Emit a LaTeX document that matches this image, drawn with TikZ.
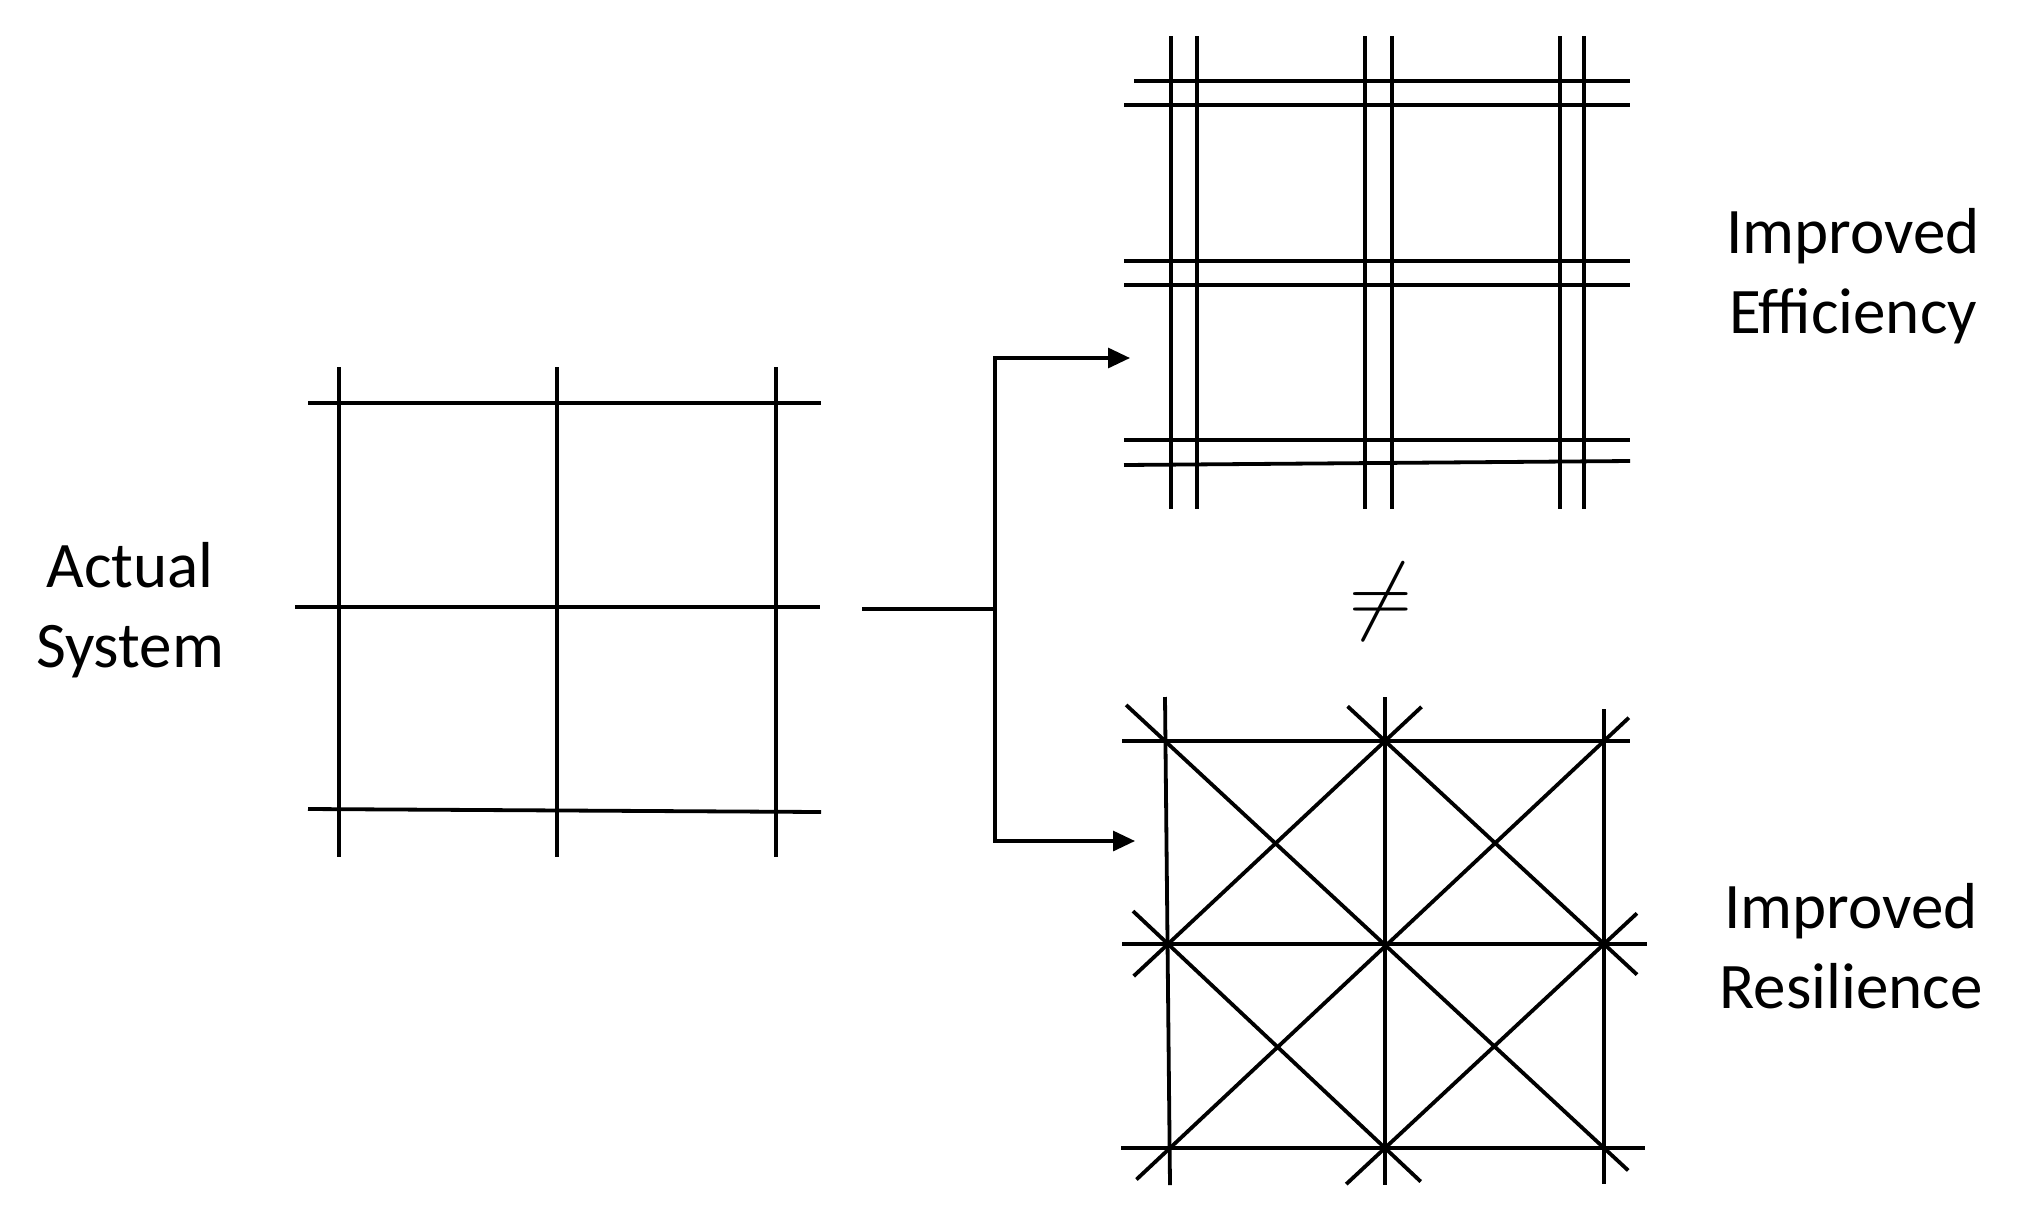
\RequirePackage{fix-cm}
\documentclass[tikz,border=0pt]{standalone}
\usepackage{fontspec}
\setmainfont{Carlito}
\usetikzlibrary{arrows.meta}
\begin{document}
\begin{tikzpicture}[x=1pt,y=-1pt,
  gridline/.style={line width=3.8pt, black},
  connline/.style={line width=3.2pt, black},
  conn/.style={connline, -{Triangle[length=22pt,width=20pt]}},
  txt/.style={font=\fontsize{65}{80}\selectfont, align=center, inner sep=0pt}]
\useasboundingbox (0,0) rectangle (2024,1227);
% left grid (actual system)
\draw[gridline] (339,367) -- (339,857);
\draw[gridline] (557,367) -- (557,857);
\draw[gridline] (776,367) -- (776,857);
\draw[gridline] (308,403) -- (821,403);
\draw[gridline] (295,607) -- (820,607);
\draw[gridline] (308,809) -- (821,812);
% top right grid (efficiency)
\foreach \x in {1171,1197,1365,1392,1560,1584} \draw[gridline] (\x,36) -- (\x,509);
\draw[gridline] (1134,81) -- (1630,81);
\foreach \y in {105,261,285,440} \draw[gridline] (1124,\y) -- (1630,\y);
\draw[gridline] (1124,465) -- (1630,461);
% bottom right grid (resilience)
\coordinate (TL) at (1165,741);
\coordinate (TM) at (1385,741);
\coordinate (TR) at (1604,741);
\coordinate (ML) at (1168,944);
\coordinate (C)  at (1385,944);
\coordinate (MR) at (1604,944);
\coordinate (BL) at (1170,1148);
\coordinate (BM) at (1385,1148);
\coordinate (BR) at (1604,1148);
\draw[gridline] (1165,697) -- (1170,1185);
\draw[gridline] (1385,697) -- (1385,1185);
\draw[gridline] (1604,709) -- (1604,1184);
\draw[gridline] (1122,741) -- (1630,741);
\draw[gridline] (1122,944) -- (1647,944);
\draw[gridline] (1121,1148) -- (1645,1148);
\draw[gridline, shorten <=-53pt, shorten >=-33pt] (TL) -- (BR);
\draw[gridline, shorten <=-51pt, shorten >=-45pt] (TM) -- (MR);
\draw[gridline, shorten <=-48pt, shorten >=-49pt] (ML) -- (BM);
\draw[gridline, shorten <=-50pt, shorten >=-47pt] (TM) -- (ML);
\draw[gridline, shorten <=-34pt, shorten >=-46pt] (TR) -- (BL);
\draw[gridline, shorten <=-45pt, shorten >=-53pt] (MR) -- (BM);
% connectors
\coordinate (src) at (862,609);
\coordinate (junc) at (995,609);
\coordinate (effin) at (1130,358);
\coordinate (resin) at (1135,841);
\draw[connline] (src) -- (junc);
\draw[conn] (junc) |- (effin);
\draw[conn] (junc) |- (resin);
% labels
\node[txt] (actual) at (130,610) {Actual\\System};
\node[txt] (eff) at (1853,276) {Improved\\Efficiency};
\node[txt] (res) at (1851,946) {Improved\\Resilience};
\node[inner sep=0pt, font=\fontsize{87}{87}\selectfont] (neq) at (1381,602) {$\neq$};
\end{tikzpicture}
\end{document}
